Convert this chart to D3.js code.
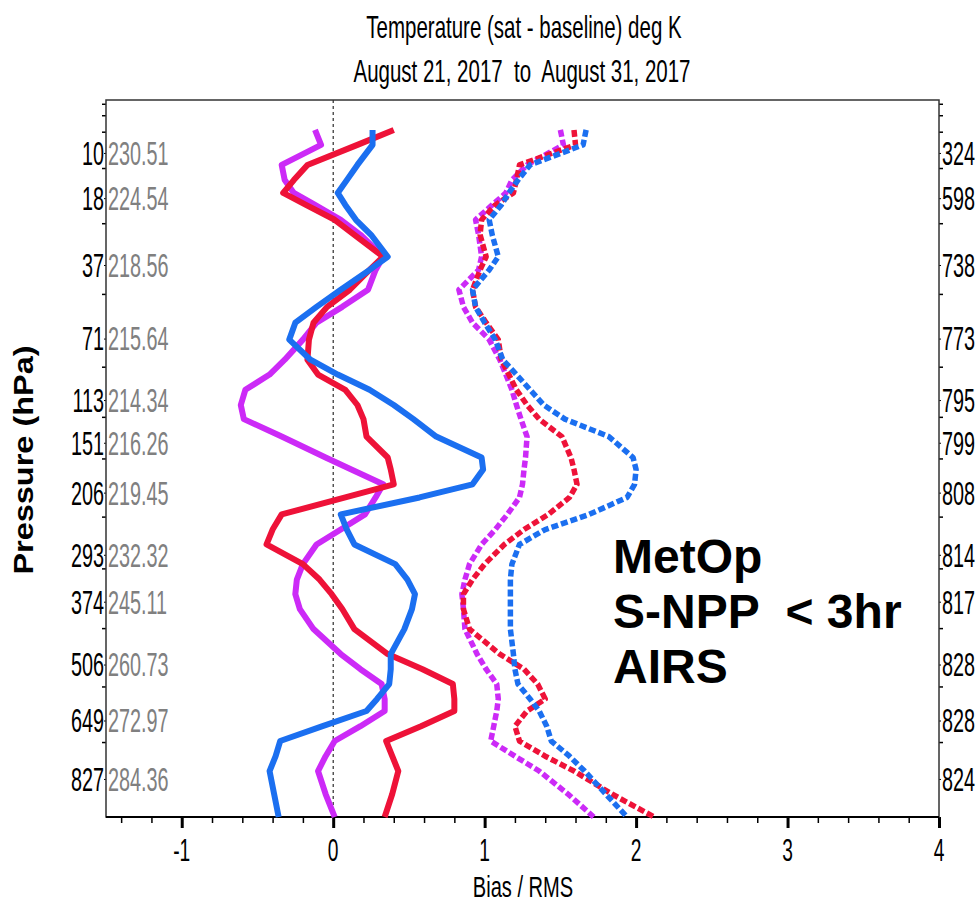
<!DOCTYPE html>
<html>
  <head>
    <script src="https://cdnjs.cloudflare.com/ajax/libs/d3/7.8.5/d3.min.js"></script>
    <style>
      body { margin: 0; background: #fff; }
      text { font-family: "Liberation Sans", Arial, sans-serif; white-space: pre; }
    </style>
  </head>
  <body>
    <div id="chart"></div>
    <script>
      // pressure levels (hPa) the profiles are drawn on
      const pressure = [7.1, 8.9, 11.8, 14.4, 16.9, 19.5, 23.1, 27.2, 34.1, 38.8, 46.7, 54.4, 62.3, 71.6, 83.9, 93.9, 105, 117, 129, 145, 166, 179, 196, 212, 234, 255, 277, 308, 334, 360, 388, 428, 482, 517, 553, 591, 623, 665, 708, 754, 801, 878, 960];

      // bias (solid) and rms (dashed) per satellite
      const magBias = [-0.12, -0.08, -0.34, -0.32, -0.26, -0.12, 0.05, 0.18, 0.33, 0.28, 0.23, 0.06, -0.11, -0.2, -0.32, -0.42, -0.58, -0.61, -0.59, -0.34, -0.05, 0.12, 0.33, 0.28, 0.21, 0.05, -0.11, -0.2, -0.24, -0.25, -0.22, -0.13, 0.05, 0.18, 0.32, 0.34, 0.34, 0.18, 0.01, -0.05, -0.1, -0.05, 0.01];
      const redBias = [0.4, 0.16, -0.17, -0.26, -0.33, -0.18, 0.01, 0.14, 0.33, 0.24, 0.11, -0.04, -0.13, -0.16, -0.17, -0.1, 0.08, 0.16, 0.2, 0.22, 0.36, 0.38, 0.4, 0.08, -0.34, -0.4, -0.44, -0.2, -0.09, -0.01, 0.06, 0.14, 0.36, 0.59, 0.79, 0.8, 0.8, 0.58, 0.35, 0.39, 0.43, 0.39, 0.34];
      const bluBias = [0.26, 0.26, 0.16, 0.09, 0.03, 0.08, 0.15, 0.25, 0.36, 0.24, 0.05, -0.11, -0.25, -0.29, -0.15, 0.03, 0.24, 0.4, 0.53, 0.68, 0.98, 0.99, 0.92, 0.57, 0.05, 0.09, 0.14, 0.41, 0.49, 0.54, 0.52, 0.47, 0.38, 0.38, 0.37, 0.29, 0.22, -0.07, -0.35, -0.38, -0.42, -0.39, -0.36];
      const magRms = [1.5, 1.52, 1.28, 1.18, 1.14, 1.05, 0.94, 0.96, 0.98, 0.96, 0.83, 0.86, 0.92, 1.03, 1.1, 1.14, 1.18, 1.21, 1.24, 1.28, 1.27, 1.26, 1.25, 1.23, 1.15, 1.07, 0.98, 0.9, 0.87, 0.85, 0.86, 0.87, 0.95, 1.01, 1.08, 1.09, 1.08, 1.06, 1.04, 1.2, 1.36, 1.55, 1.72];
      const redRms = [1.59, 1.6, 1.23, 1.21, 1.19, 1.07, 0.98, 0.97, 1.01, 0.97, 0.92, 0.94, 1.01, 1.09, 1.11, 1.16, 1.21, 1.28, 1.36, 1.51, 1.57, 1.59, 1.61, 1.56, 1.42, 1.26, 1.13, 1.0, 0.92, 0.86, 0.86, 0.9, 1.1, 1.26, 1.35, 1.4, 1.28, 1.2, 1.23, 1.4, 1.59, 1.84, 2.12];
      const bluRms = [1.67, 1.65, 1.3, 1.22, 1.16, 1.11, 1.03, 1.05, 1.09, 1.03, 0.92, 0.94, 1.0, 1.07, 1.12, 1.21, 1.3, 1.39, 1.53, 1.82, 1.98, 2.0, 1.99, 1.94, 1.69, 1.4, 1.23, 1.18, 1.17, 1.17, 1.17, 1.17, 1.19, 1.2, 1.22, 1.3, 1.36, 1.41, 1.44, 1.56, 1.66, 1.8, 1.94];

      // axis labels
      const levelP = [10, 18, 37, 71, 113, 151, 206, 293, 374, 506, 649, 827];
      const meanT = ["230.51", "224.54", "218.56", "215.64", "214.34", "216.26", "219.45", "232.32", "245.11", "260.73", "272.97", "284.36"];
      const counts = ["324", "598", "738", "773", "795", "799", "808", "814", "817", "828", "828", "824"];
      const boundP = [4.6, 5.6, 7.3, 12.3, 24, 48.5, 88.5, 127, 167, 237, 315, 426, 559, 711];
      const xMajor = [-1, 0, 1, 2, 3, 4];

      const W = 978, H = 906;
      const L = 106, R = 939, T = 100, B = 817;

      const svg = d3.select("#chart").append("svg").attr("width", W).attr("height", H);

      const x = d3.scaleLinear().domain([-1.5, 4]).range([L, R]);
      const y = d3.scalePow().exponent(0.286).domain([4.3, 960]).range([T, B]);

      // narrow text: the original glyphs are tall and condensed
      function label(g, px, py, str, o) {
        return g.append("text")
          .attr("transform", `translate(${px},${py}) ${o.rot ? "rotate(" + o.rot + ")" : ""} scale(${o.sx || 1},1)`)
          .attr("text-anchor", o.anchor || "start")
          .attr("dy", o.dy || 0)
          .style("font-size", o.size + "px")
          .style("font-weight", o.bold ? "bold" : "normal")
          .style("fill", o.fill || "#000")
          .text(str);
      }

      // title
      label(svg, 524, 38, "Temperature (sat - baseline) deg K", { size: 32, sx: 0.64, anchor: "middle" });
      label(svg, 522, 82, "August 21, 2017  to  August 31, 2017", { size: 32, sx: 0.64, anchor: "middle" });

      // zero line
      svg.append("line")
        .attr("x1", x(0)).attr("x2", x(0)).attr("y1", T).attr("y2", B)
        .attr("stroke", "#000").attr("stroke-width", 1).attr("stroke-dasharray", "3,3");

      // x axis
      const minor = d3.range(-1.4, 4, 0.2).filter((v) => Math.abs(v - Math.round(v)) > 0.01);
      svg.append("g").attr("transform", `translate(0,${B})`)
        .call(d3.axisBottom(x).tickValues(minor).tickSize(6).tickFormat(""))
        .call((g) => g.select(".domain").remove())
        .call((g) => g.selectAll("line").attr("stroke-width", 1.5));
      svg.append("g").attr("transform", `translate(0,${B})`)
        .call(d3.axisBottom(x).tickValues(xMajor).tickSize(11).tickFormat(""))
        .call((g) => g.select(".domain").remove())
        .call((g) => g.selectAll("line").attr("stroke-width", 3));
      xMajor.forEach((v) => label(svg, x(v), 861, String(v), { size: 32, sx: 0.6, anchor: "middle" }));
      label(svg, 523, 897, "Bias / RMS", { size: 30, sx: 0.67, anchor: "middle" });

      // y axes ticks
      [[d3.axisLeft, L], [d3.axisRight, R]].forEach(([ax, px]) => {
        svg.append("g").attr("transform", `translate(${px},0)`)
          .call(ax(y).tickValues(boundP).tickSize(4).tickFormat(""))
          .call((g) => g.select(".domain").remove())
          .call((g) => g.selectAll("line").attr("stroke-width", 1.5));
        svg.append("g").attr("transform", `translate(${px},0)`)
          .call(ax(y).tickValues(levelP).tickSize(2).tickFormat(""))
          .call((g) => g.select(".domain").remove());
      });

      levelP.forEach((p, i) => {
        label(svg, L - 2, y(p), String(p), { size: 33, sx: 0.6, anchor: "end", dy: "0.36em" });
        label(svg, L + 2, y(p), meanT[i], { size: 33, sx: 0.6, dy: "0.36em", fill: "#808080" });
        label(svg, R + 3, y(p), counts[i], { size: 33, sx: 0.6, dy: "0.36em" });
      });

      label(svg, 33, 460, "Pressure (hPa)", { size: 28, sx: 1.16, rot: -90, anchor: "middle", bold: true });

      // frame
      svg.append("rect")
        .attr("x", L).attr("y", T).attr("width", R - L).attr("height", B - T)
        .attr("fill", "none").attr("stroke", "#333").attr("stroke-width", 1.5);
      svg.append("line").attr("x1", L).attr("x2", R).attr("y1", B).attr("y2", B)
        .attr("stroke", "#000").attr("stroke-width", 2);

      // profiles
      const series = [
        { v: magRms, c: "#cc2af7", dash: true },
        { v: redRms, c: "#ee1238", dash: true },
        { v: bluRms, c: "#1b6ff0", dash: true },
        { v: magBias, c: "#cc2af7" },
        { v: redBias, c: "#ee1238" },
        { v: bluBias, c: "#1b6ff0" },
      ];
      const line = d3.line().x((d) => x(d[1])).y((d) => y(d[0]));
      series.forEach((s) => {
        svg.append("path")
          .datum(pressure.map((p, i) => [p, s.v[i]]))
          .attr("d", line)
          .attr("fill", "none")
          .attr("stroke", s.c)
          .attr("stroke-width", s.dash ? 5.5 : 6)
          .attr("stroke-linejoin", "round")
          .attr("stroke-dasharray", s.dash ? "7,3" : null);
      });

      // annotation
      const notes = ["MetOp", "S-NPP  < 3hr", "AIRS"];
      notes.forEach((t, i) => label(svg, 613, 573 + i * 55, t, { size: 48, bold: true }));
    </script>
  </body>
</html>
